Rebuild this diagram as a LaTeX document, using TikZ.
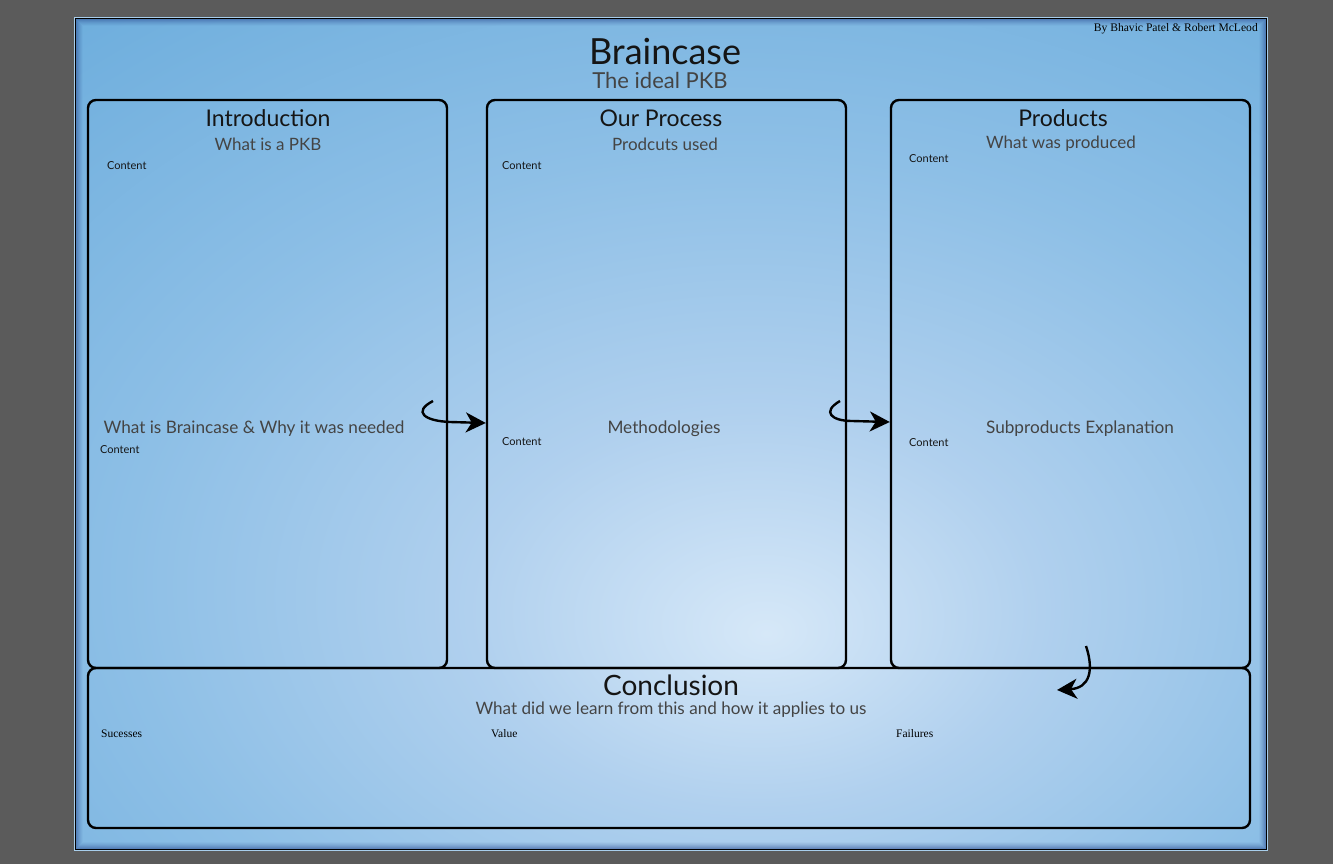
\documentclass[tikz,border=0pt]{standalone}
\usepackage{fontspec}
\setmainfont{Lato}
\newfontfamily\serifsmall{Liberation Serif}
\usetikzlibrary{arrows.meta}
\definecolor{pagegray}{HTML}{5B5B5B}
\definecolor{pc0}{HTML}{D6E8F8}
\definecolor{pc1}{HTML}{B0D0EE}
\definecolor{pc2}{HTML}{8DBFE6}
\definecolor{pc3}{HTML}{6EAEDD}
\definecolor{pc4}{HTML}{6094CC}
\definecolor{edgeblue}{HTML}{2E4F94}
\definecolor{ink}{HTML}{151515}
\pgfdeclareradialshading{posterbg}{\pgfpoint{4bp}{-12bp}}{%
  color(0bp)=(pc0); color(12bp)=(pc1); color(26bp)=(pc2); color(42bp)=(pc3); color(60bp)=(pc4); color(100bp)=(pc4)}
\tikzset{
  panel/.style={draw=black, line width=2.4pt, rounded corners=8pt, inner sep=0pt},
  ttl/.style={font=\fontsize{23}{26}\selectfont, text=ink, anchor=base},
  subttl/.style={font=\fontsize{17}{20}\selectfont, text=ink!80, anchor=base},
  midtxt/.style={font=\fontsize{17.2}{20}\selectfont, text=ink!80, anchor=base},
  contenttxt/.style={font=\fontsize{11}{13}\selectfont, text=ink, anchor=base west, inner sep=0pt},
  seriftxt/.style={font=\serifsmall\fontsize{11.5}{13}\selectfont, text=black, anchor=base west, inner sep=0pt},
  flow/.style={draw=black, line width=2.4pt, -{Stealth[length=20pt, width=20pt, inset=6pt]}}
}
\begin{document}
\begin{tikzpicture}[x=1pt,y=-1pt]
\useasboundingbox (0,0) rectangle (1333,864);
\fill[pagegray] (0,0) rectangle (1333,864);
% poster
\shade[shading=posterbg] (75,18) rectangle (1267,850);
\foreach \i/\o in {1/0.35,2/0.28,3/0.22,4/0.16,5/0.11,6/0.07,7/0.04} {
  \draw[edgeblue, opacity=\o, line width=1.1pt] (75+\i,18+\i) rectangle (1267-\i,850-\i);
}
\draw[black, line width=1pt] (75.5,18.5) rectangle (1266.5,849.5);
\draw[pc3!60!white, line width=0.6pt] (74.5,17.5) rectangle (1267.5,850.5);

% header
\node[font=\fontsize{36}{40}\selectfont, text=ink, anchor=base] (title) at (665,65) {Braincase};
\node[font=\fontsize{22}{26}\selectfont, text=ink!80, anchor=base] (subtitle) at (660,89) {The ideal PKB};
\node[font=\serifsmall\fontsize{11.6}{13}\selectfont, anchor=base east, inner sep=0pt] (byline) at (1258,32) {By Bhavic Patel \& Robert McLeod};

% panels
\node[panel, minimum width=359pt, minimum height=568pt] (intro) at (267.5,384) {};
\node[panel, minimum width=359pt, minimum height=568pt] (process) at (666.5,384) {};
\node[panel, minimum width=359pt, minimum height=568pt] (products) at (1070.5,384) {};
\node[panel, minimum width=1162pt, minimum height=160pt] (concl) at (669,748) {};

% intro texts
\node[ttl] (introT) at (268,127) {Introduction};
\node[subttl] (introS) at (268,150) {What is a PKB};
\node[contenttxt] (introC1) at (107,169) {Content};
\node[midtxt] (introM) at (254,433) {What is Braincase \& Why it was needed};
\node[contenttxt] (introC2) at (100,453) {Content};

% process texts
\node[ttl] (procT) at (661,127) {Our Process};
\node[subttl] (procS) at (665,150) {Prodcuts used};
\node[contenttxt] (procC1) at (502,169) {Content};
\node[midtxt] (procM) at (664,433) {Methodologies};
\node[contenttxt] (procC2) at (502,445) {Content};

% products texts
\node[ttl] (prodT) at (1063,127) {Products};
\node[subttl] (prodS) at (1061,149) {What was produced};
\node[contenttxt] (prodC1) at (909,162) {Content};
\node[midtxt] (prodM) at (1080,433) {Subproducts Explanation};
\node[contenttxt] (prodC2) at (909,446) {Content};

% conclusion texts
\node[font=\fontsize{28}{32}\selectfont, text=ink, anchor=base, inner sep=0pt, text depth=0pt] (conT) at (671,695.5) {Conclusion};
\node[font=\fontsize{17.1}{20}\selectfont, text=ink!80, anchor=base, inner sep=0pt] (conS) at (671,714.5) {What did we learn from this and how it applies to us};
\node[seriftxt] (succ) at (101,737) {Sucesses};
\node[seriftxt] (val) at (491,737) {Value};
\node[seriftxt] (fail) at (896,737) {Failures};

% connectors
\coordinate (s1) at (433,401);
\coordinate (t1) at (0,423);
\draw[flow] (s1) .. controls (412,412) and (425,421) .. (450,422) -- (t1 -| process.west);
\coordinate (s2) at (840,401);
\coordinate (t2) at (0,422);
\draw[flow] (s2) .. controls (821,412) and (832,421) .. (852,421) -- (t2 -| products.west);
\coordinate (s3) at (1086,646);
\coordinate (t3) at (1057,690);
\draw[flow] (s3) .. controls (1094,670) and (1090,688) .. (t3);
\end{tikzpicture}
\end{document}
